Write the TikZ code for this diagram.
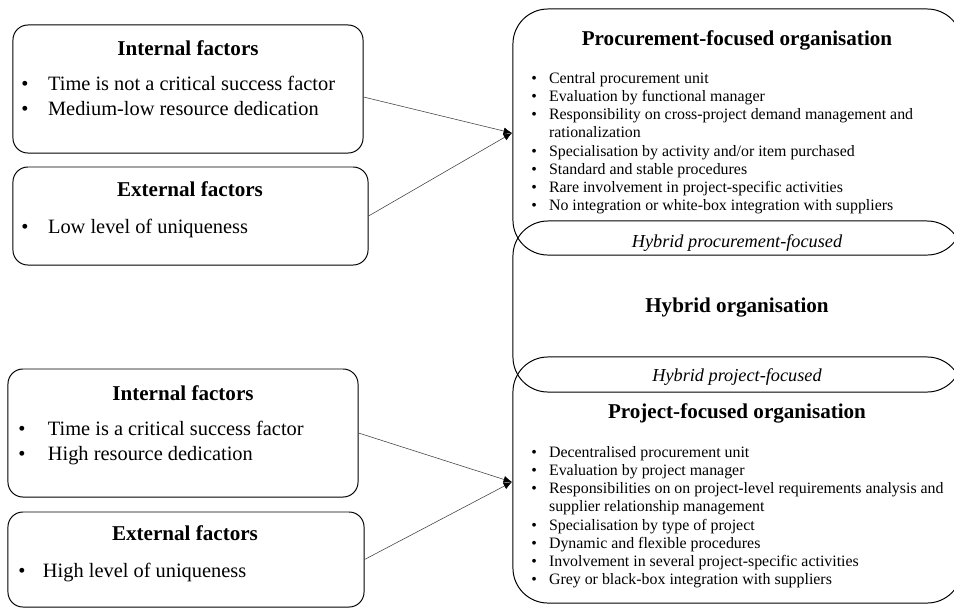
\documentclass[tikz,border=0pt]{standalone}
\usepackage{fontspec}
\setmainfont{Liberation Serif}
\usetikzlibrary{arrows.meta}

\begin{document}
\begin{tikzpicture}[x=0.025cm,y=-0.025cm,
	factor/.style={draw,rounded corners=0.375cm,line width=0.7pt,inner sep=0pt},
	org/.style={draw,rounded corners=0.875cm,line width=0.7pt,inner sep=0pt,minimum width=11.225cm},
	head/.style={anchor=base,inner sep=0pt,font=\fontsize{15}{18}\selectfont\bfseries},
	hyb/.style={anchor=base,inner sep=0pt,font=\fontsize{13}{15}\selectfont\itshape},
	itemL/.style={anchor=base west,inner sep=0pt,font=\fontsize{14.5}{17.8}\selectfont},
	itemS/.style={anchor=base west,inner sep=0pt,font=\fontsize{11.3}{13}\selectfont},
	link/.style={line width=0.4pt,draw=black!75,-{Latex[length=6pt,width=5pt,black]}}]
			\useasboundingbox (0,0) rectangle (954,608);
			\clip (0,0) rectangle (954,608);
			
			% factor boxes
			\node[factor,minimum width=8.75cm,minimum height=3.2cm] (int1) at (188,89) {};
			\node[factor,minimum width=8.875cm,minimum height=2.45cm] (ext1) at (190.5,216) {};
			\node[factor,minimum width=8.75cm,minimum height=3.2cm] (int2) at (183,433) {};
			\node[factor,minimum width=8.9cm,minimum height=2.375cm] (ext2) at (186,559.5) {};
			
			\node[head] (int1h) at (188,55) {Internal factors};
			\node[itemL] (int1l) at (21,90) {\begin{tabular}[t]{@{}c@{\hspace{14pt}}l@{}}
				\textbullet & Time is not a critical success factor\\
				\textbullet & Medium-low resource dedication
			\end{tabular}};
			\node[head] (ext1h) at (190,196) {External factors};
			\node[itemL] (ext1l) at (21,233) {\begin{tabular}[t]{@{}c@{\hspace{14pt}}l@{}}
				\textbullet & Low level of uniqueness
			\end{tabular}};
			\node[head] (int2h) at (183,400) {Internal factors};
			\node[itemL] (int2l) at (18,435) {\begin{tabular}[t]{@{}c@{\hspace{16pt}}l@{}}
				\textbullet & Time is a critical success factor\\
				\textbullet & High resource dedication
			\end{tabular}};
			\node[head] (ext2h) at (185,540) {External factors};
			\node[itemL] (ext2l) at (18,577) {\begin{tabular}[t]{@{}c@{\hspace{12.5pt}}l@{}}
				\textbullet & High level of uniqueness
			\end{tabular}};
			
			% organisation boxes
			\node[org,minimum height=6.15cm] (proc) at (737.5,132) {};
			\node[org,minimum height=4.275cm] (hybr) at (737.5,306.5) {};
			\node[org,minimum height=6.15cm] (proj) at (737.5,480) {};
			
			\node[head] (proch) at (737,45) {Procurement-focused organisation};
			\node[itemS] (procl) at (531,83) {\begin{tabular}[t]{@{}c@{\hspace{8.7pt}}l@{}}
				\textbullet & Central procurement unit\\
				\textbullet & Evaluation by functional manager\\
				\textbullet & Responsibility on cross-project demand management and\\
				& rationalization\\
				\textbullet & Specialisation by activity and/or item purchased\\
				\textbullet & Standard and stable procedures\\
				\textbullet & Rare involvement in project-specific activities\\
				\textbullet & No integration or white-box integration with suppliers
			\end{tabular}};
			\node[hyb] (hprc) at (737,247) {Hybrid procurement-focused};
			\node[head] (hybrh) at (737,312) {Hybrid organisation};
			\node[hyb] (hprj) at (737,381) {Hybrid project-focused};
			\node[head] (projh) at (737,418) {Project-focused organisation};
			\node[itemS] (projl) at (531,457) {\begin{tabular}[t]{@{}c@{\hspace{8.7pt}}l@{}}
				\textbullet & Decentralised procurement unit\\
				\textbullet & Evaluation by project manager\\
				\textbullet & Responsibilities on on project-level requirements analysis and\\
				& supplier relationship management\\
				\textbullet & Specialisation by type of project\\
				\textbullet & Dynamic and flexible procedures\\
				\textbullet & Involvement in several project-specific activities\\
				\textbullet & Grey or black-box integration with suppliers
			\end{tabular}};
			
			% connectors
			\coordinate (pin) at (512,133);
			\coordinate (jin) at (512,482);
			\draw[link] ([yshift=-0.2cm]int1.east) -- (pin);
			\draw[link] (ext1.east) -- (pin);
			\draw[link] (int2.east) -- (jin);
			\draw[link] (ext2.east) -- (jin);
		\end{tikzpicture}
\end{document}
